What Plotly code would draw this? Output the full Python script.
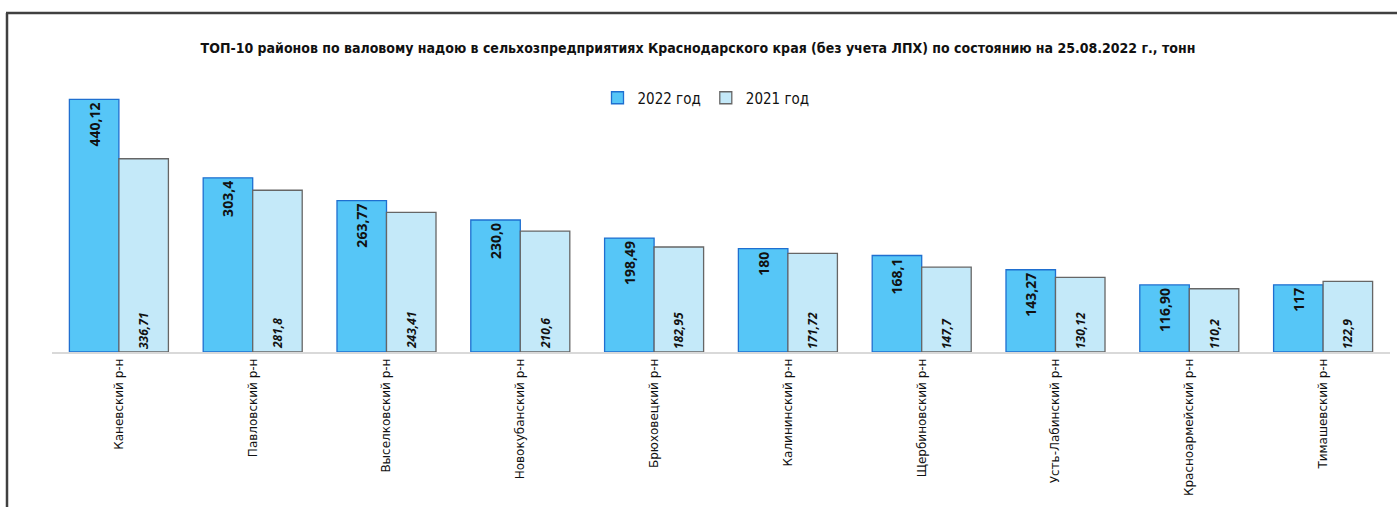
import plotly.graph_objects as go

categories = ["Каневский р-н", "Павловский р-н", "Выселковский р-н", "Новокубанский р-н",
              "Брюховецкий р-н", "Калининский р-н", "Щербиновский р-н", "Усть-Лабинский р-н",
              "Красноармейский р-н", "Тимашевский р-н"]
values_2022 = [440.12, 303.4, 263.77, 230.0, 198.49, 180, 168.1, 143.27, 116.90, 117]
values_2021 = [336.71, 281.8, 243.41, 210.6, 182.95, 171.72, 147.7, 130.12, 110.2, 122.9]
labels_2022 = ["440,12", "303,4", "263,77", "230,0", "198,49", "180", "168,1", "143,27", "116,90", "117"]
labels_2021 = ["336,71", "281,8", "243,41", "210,6", "182,95", "171,72", "147,7", "130,12", "110,2", "122,9"]

W, H = 1397, 507
ML, MR, MT, MB = 52, 7, 65, 155
pw = W - ML - MR
ph = H - MT - MB

def px(x):
    return (x - ML) / pw

def py(y):
    return (H - MB - y) / ph

fig = go.Figure()
fig.add_trace(go.Bar(
    name="2022 год", x=categories, y=values_2022,
    marker=dict(color="#56C6F7", line=dict(color="#1F6FD0", width=1.3)),
    text=labels_2022, textposition="inside", insidetextanchor="end",
    textangle=-90,
    textfont=dict(family="Noto Sans", size=14, color="#111111", weight="bold"),
    constraintext="none",
))
fig.add_trace(go.Bar(
    name="2021 год", x=categories, y=values_2021,
    marker=dict(color="#C4E9F9", line=dict(color="#666666", width=1.3)),
    text=labels_2021, textposition="inside", insidetextanchor="start",
    textangle=-90,
    textfont=dict(family="Noto Sans", size=12, color="#111111", weight="bold", style="italic"),
    constraintext="none",
))

fig.update_layout(
    width=W, height=H,
    margin=dict(l=ML, r=MR, t=MT, b=MB),
    paper_bgcolor="white", plot_bgcolor="white",
    barmode="group", bargap=0.26, bargroupgap=0,
    title=dict(
        text="ТОП-10 районов по валовому надою в сельхозпредприятиях Краснодарского края (без учета ЛПХ) по состоянию на 25.08.2022 г., тонн",
        x=698 / W, xanchor="center", y=1 - 48 / H, yanchor="middle",
        font=dict(family="Liberation Sans Narrow, DejaVu Sans Condensed, Arial", size=14, color="#111111", weight="bold"),
    ),
    legend=dict(
        orientation="h", x=px(706), xanchor="center", y=py(98), yanchor="middle",
        font=dict(family="Liberation Sans Narrow, DejaVu Sans Condensed, Arial", size=15, color="#111111"),
        bgcolor="rgba(0,0,0,0)", itemwidth=30, traceorder="normal",
    ),
    showlegend=True,
    xaxis=dict(
        showline=True, linecolor="#D9D9D9", linewidth=1.5, ticks="",
        tickangle=-90, tickfont=dict(family="DejaVu Sans", size=12, color="#111111"),
        showgrid=False,
    ),
    yaxis=dict(range=[0, 500], visible=False, showgrid=False),
    shapes=[
        dict(type="line", xref="paper", yref="paper", x0=px(7), x1=px(7), y0=py(13), y1=py(H + 2),
             line=dict(color="#404040", width=2.5)),
        dict(type="line", xref="paper", yref="paper", x0=px(6), x1=px(W + 2), y0=py(13), y1=py(13),
             line=dict(color="#404040", width=2.5)),
    ],
)

fig.write_html("out.html", config={"displayModeBar": False},
               post_script="document.body.style.margin='0px';document.body.style.overflow='hidden';")
